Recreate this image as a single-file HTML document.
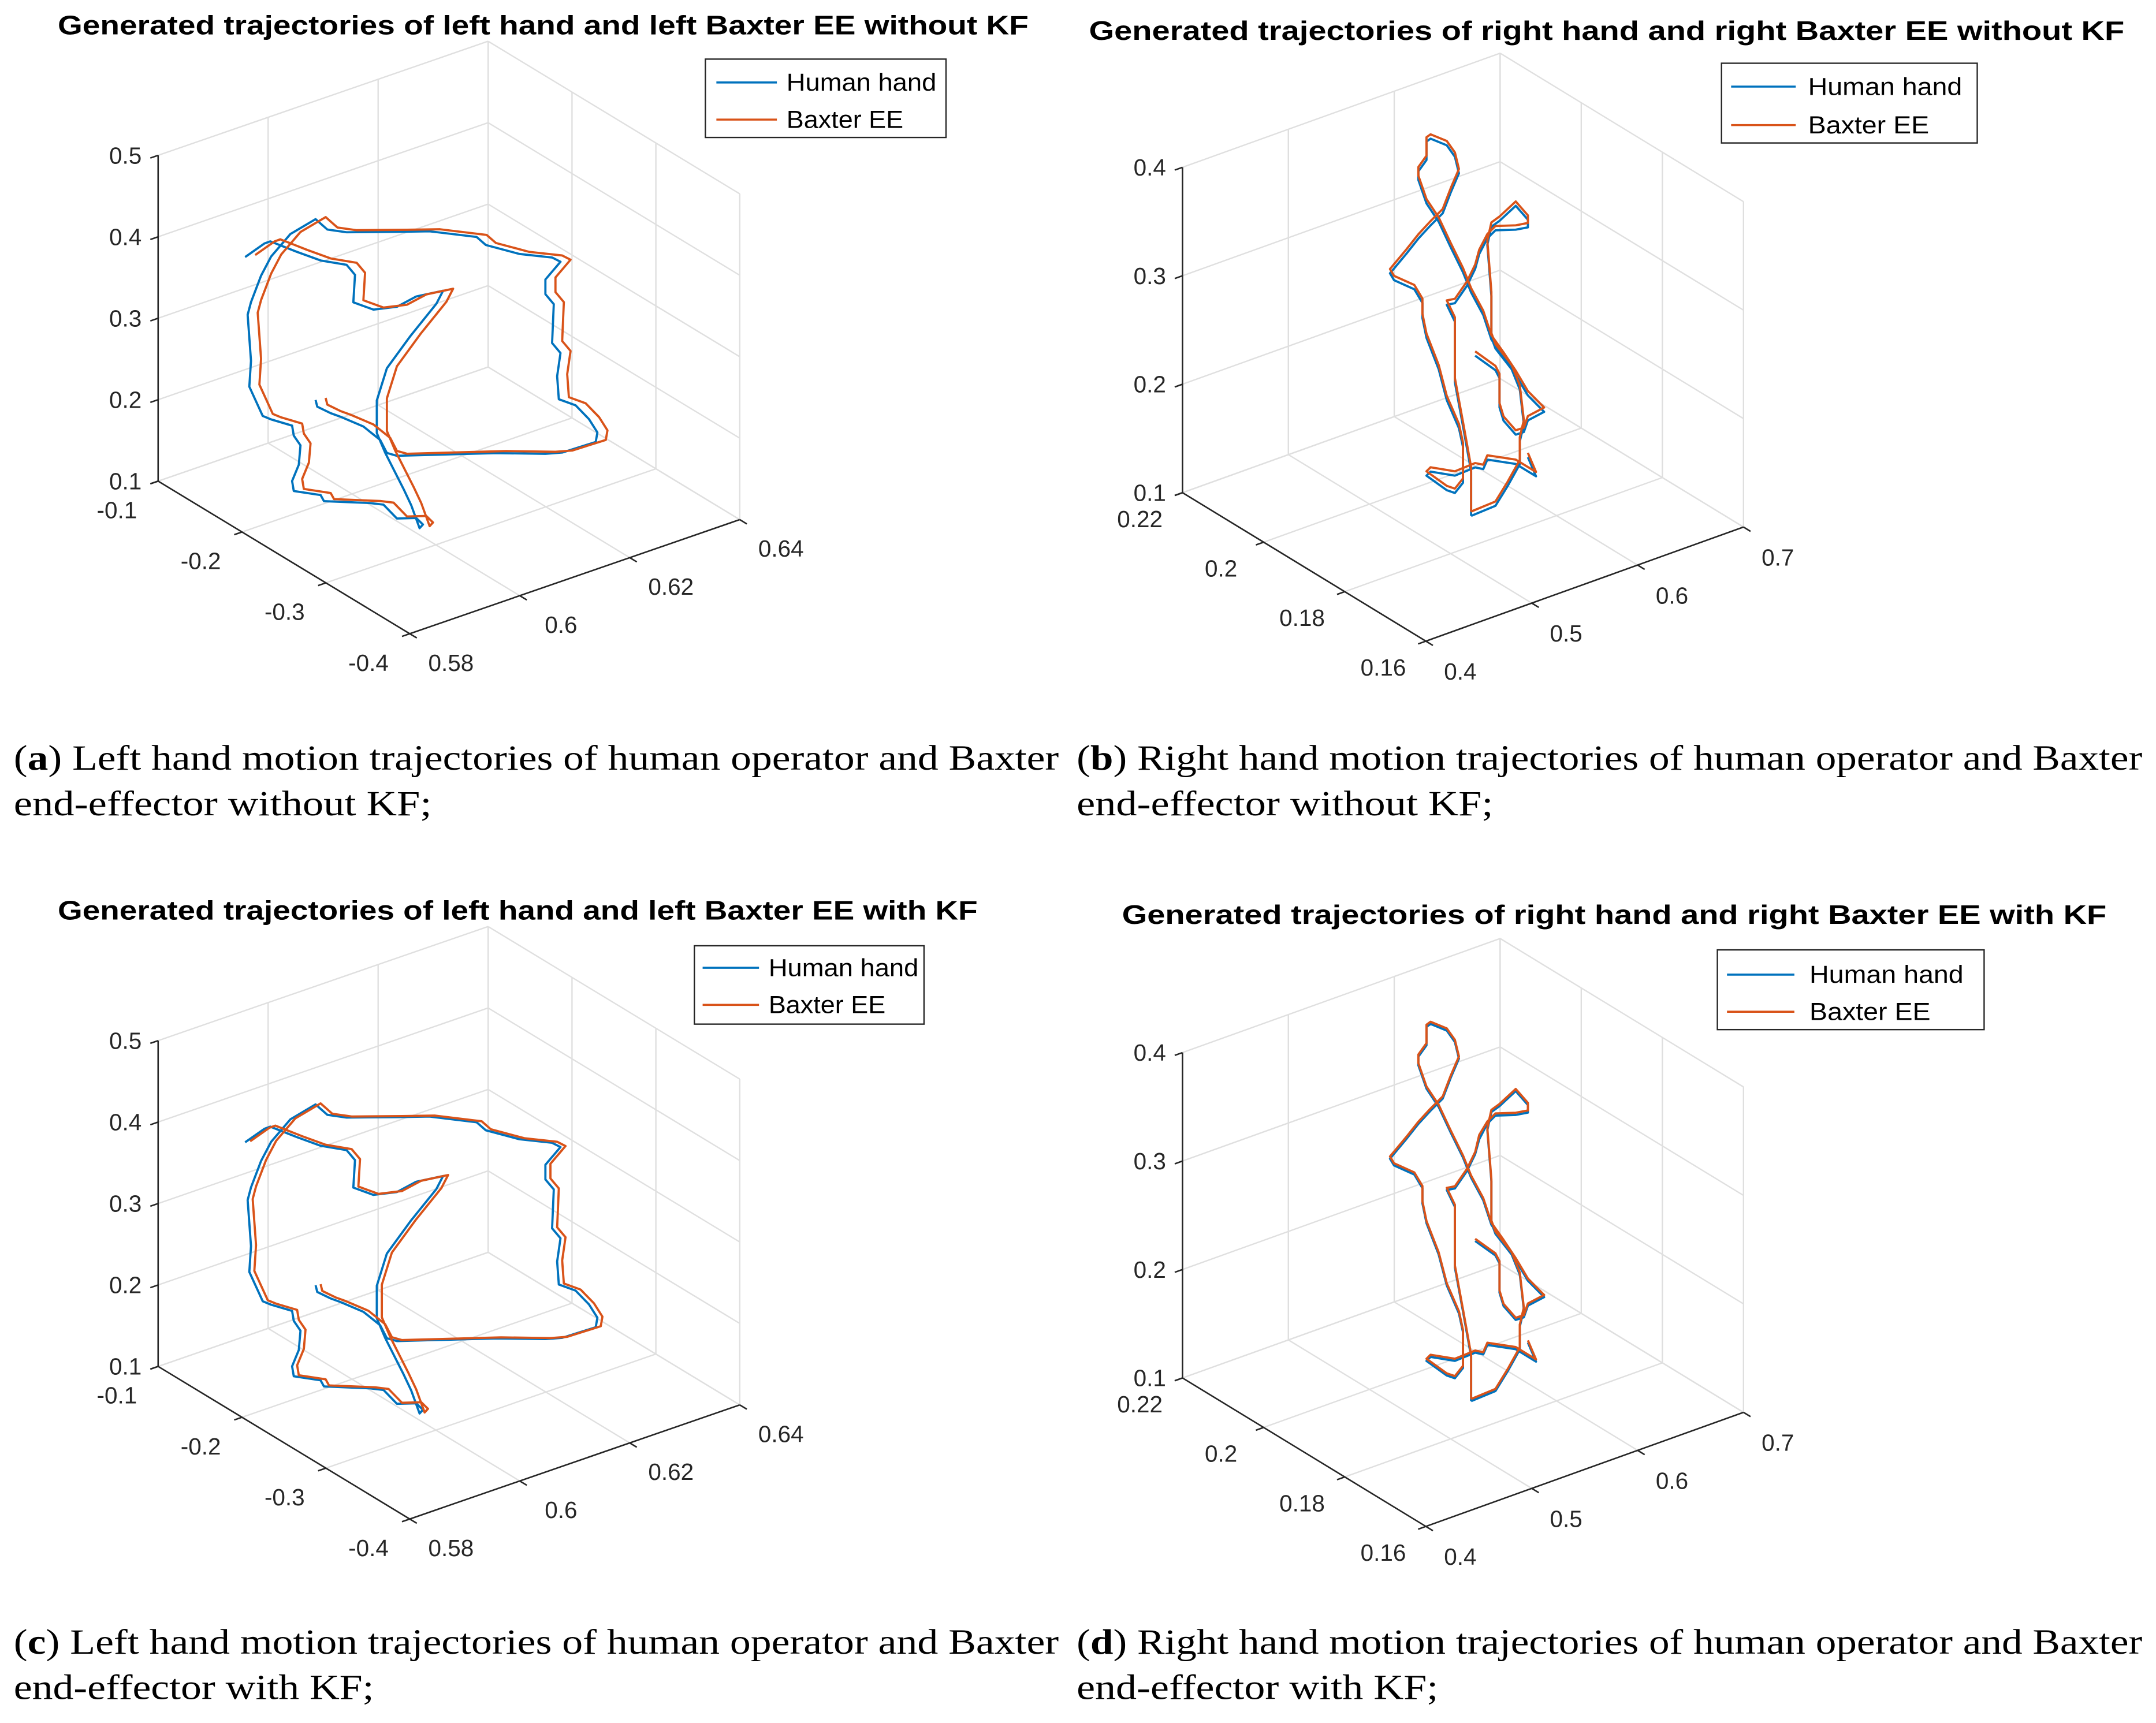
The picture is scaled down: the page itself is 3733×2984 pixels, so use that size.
<!DOCTYPE html>
<html><head><meta charset="utf-8"><style>
html,body{margin:0;padding:0;background:#fff;}
svg{display:block;}
.tk{font-family:"Liberation Sans",sans-serif;font-size:17px;fill:#262626;}
.ttl{font-family:"Liberation Sans",sans-serif;font-size:19.5px;font-weight:bold;fill:#000;}
.lg{font-family:"Liberation Sans",sans-serif;font-size:18px;fill:#000;}
.cap{font-family:"Liberation Serif",serif;font-size:26px;fill:#000;}
</style></head><body>
<svg id="fig" xmlns="http://www.w3.org/2000/svg" width="3733" height="2984" viewBox="0 0 1568 1253.4">
<rect x="0" y="0" width="1568" height="1253.4" fill="#fff"/>
<g id="pa"></g>
<g id="pb"></g>
<g id="pc"></g>
<g id="pd"></g>

<text class="ttl" x="42" y="25" textLength="706" lengthAdjust="spacingAndGlyphs">Generated trajectories of left hand and left Baxter EE without KF</text>
<text class="ttl" x="792" y="29" textLength="753" lengthAdjust="spacingAndGlyphs">Generated trajectories of right hand and right Baxter EE without KF</text>
<text class="ttl" x="42" y="669" textLength="669" lengthAdjust="spacingAndGlyphs">Generated trajectories of left hand and left Baxter EE with KF</text>
<text class="ttl" x="816" y="672" textLength="716" lengthAdjust="spacingAndGlyphs">Generated trajectories of right hand and right Baxter EE with KF</text>

<g>
<rect x="513" y="43" width="175" height="57" fill="#fff" stroke="#262626" stroke-width="1"/>
<line x1="521" y1="60" x2="565" y2="60" stroke="#0072BD" stroke-width="1.5"/>
<text class="lg" x="572" y="66" textLength="109" lengthAdjust="spacingAndGlyphs">Human hand</text>
<line x1="521" y1="87" x2="565" y2="87" stroke="#D95319" stroke-width="1.5"/>
<text class="lg" x="572" y="93" textLength="85" lengthAdjust="spacingAndGlyphs">Baxter EE</text>
</g>
<g>
<rect x="1252" y="46" width="186" height="58" fill="#fff" stroke="#262626" stroke-width="1"/>
<line x1="1259" y1="63" x2="1306" y2="63" stroke="#0072BD" stroke-width="1.5"/>
<text class="lg" x="1315" y="69" textLength="112" lengthAdjust="spacingAndGlyphs">Human hand</text>
<line x1="1259" y1="91" x2="1306" y2="91" stroke="#D95319" stroke-width="1.5"/>
<text class="lg" x="1315" y="97" textLength="88" lengthAdjust="spacingAndGlyphs">Baxter EE</text>
</g>
<g>
<rect x="505" y="688" width="167" height="57" fill="#fff" stroke="#262626" stroke-width="1"/>
<line x1="511" y1="704" x2="552" y2="704" stroke="#0072BD" stroke-width="1.5"/>
<text class="lg" x="559" y="710" textLength="109" lengthAdjust="spacingAndGlyphs">Human hand</text>
<line x1="511" y1="731" x2="552" y2="731" stroke="#D95319" stroke-width="1.5"/>
<text class="lg" x="559" y="737" textLength="85" lengthAdjust="spacingAndGlyphs">Baxter EE</text>
</g>
<g>
<rect x="1249" y="691" width="194" height="58" fill="#fff" stroke="#262626" stroke-width="1"/>
<line x1="1256" y1="709" x2="1305" y2="709" stroke="#0072BD" stroke-width="1.5"/>
<text class="lg" x="1316" y="715" textLength="112" lengthAdjust="spacingAndGlyphs">Human hand</text>
<line x1="1256" y1="736" x2="1305" y2="736" stroke="#D95319" stroke-width="1.5"/>
<text class="lg" x="1316" y="742" textLength="88" lengthAdjust="spacingAndGlyphs">Baxter EE</text>
</g>

<g>
<text class="cap" x="10" y="560" textLength="760" lengthAdjust="spacingAndGlyphs">(<tspan font-weight="bold">a</tspan>) Left hand motion trajectories of human operator and Baxter</text>
<text class="cap" x="10" y="593" textLength="304" lengthAdjust="spacingAndGlyphs">end-effector without KF;</text>
</g>
<g>
<text class="cap" x="783" y="560" textLength="775" lengthAdjust="spacingAndGlyphs">(<tspan font-weight="bold">b</tspan>) Right hand motion trajectories of human operator and Baxter</text>
<text class="cap" x="783" y="593" textLength="303" lengthAdjust="spacingAndGlyphs">end-effector without KF;</text>
</g>
<g>
<text class="cap" x="10" y="1203" textLength="760" lengthAdjust="spacingAndGlyphs">(<tspan font-weight="bold">c</tspan>) Left hand motion trajectories of human operator and Baxter</text>
<text class="cap" x="10" y="1236" textLength="262" lengthAdjust="spacingAndGlyphs">end-effector with KF;</text>
</g>
<g>
<text class="cap" x="783" y="1203" textLength="775" lengthAdjust="spacingAndGlyphs">(<tspan font-weight="bold">d</tspan>) Right hand motion trajectories of human operator and Baxter</text>
<text class="cap" x="783" y="1236" textLength="263" lengthAdjust="spacingAndGlyphs">end-effector with KF;</text>
</g>
</svg>
<script>
// ---------- data: left-hand panels (a, c) ----------
const leftXTicks = [-0.1, -0.2, -0.3, -0.4];
const leftYTicks = [0.58, 0.6, 0.62, 0.64];
const leftZTicks = [0.1, 0.2, 0.3, 0.4, 0.5];
const leftXLabels = ["-0.1", "-0.2", "-0.3", "-0.4"];
const leftYLabels = ["0.58", "0.6", "0.62", "0.64"];
const leftZLabels = ["0.1", "0.2", "0.3", "0.4", "0.5"];
const leftDepth = 0.61;
const humanLeftX = [-0.007,-0.030,-0.037,-0.069,-0.097,-0.128,-0.138,-0.136,-0.160,-0.188,-0.211,-0.243,-0.235,-0.204,-0.176,-0.164,-0.164,-0.174,-0.196,-0.205,-0.215,-0.219,-0.211,-0.188,-0.172,-0.156,-0.101,-0.097,-0.065,-0.063,-0.071,-0.073,-0.065,-0.063,-0.038,-0.028,-0.012,-0.014,-0.010,-0.014,-0.026,-0.038,-0.061,-0.091,-0.105,-0.128,-0.188,-0.227,-0.283,-0.294,-0.334,-0.373,-0.383,-0.365,-0.365,-0.375,-0.373,-0.383,-0.379,-0.381,-0.401,-0.417,-0.427,-0.425,-0.385,-0.365,-0.306,-0.188,-0.176,-0.168,-0.148,-0.121,-0.109,-0.093,-0.091];
const humanLeftZ = [0.247,0.278,0.285,0.292,0.299,0.313,0.307,0.272,0.278,0.299,0.326,0.353,0.332,0.273,0.216,0.169,0.129,0.111,0.080,0.066,0.044,0.051,0.054,0.039,0.046,0.038,0.006,0.011,-0.004,0.007,0.032,0.057,0.064,0.075,0.067,0.065,0.091,0.124,0.178,0.196,0.236,0.267,0.309,0.346,0.342,0.353,0.391,0.416,0.444,0.441,0.455,0.475,0.476,0.443,0.425,0.419,0.370,0.364,0.333,0.306,0.311,0.304,0.294,0.281,0.243,0.229,0.193,0.116,0.112,0.123,0.127,0.122,0.119,0.117,0.124];
const baxterLeftX = [-0.019,-0.042,-0.049,-0.081,-0.109,-0.140,-0.150,-0.148,-0.172,-0.200,-0.223,-0.255,-0.247,-0.216,-0.188,-0.176,-0.176,-0.186,-0.208,-0.217,-0.227,-0.231,-0.223,-0.200,-0.184,-0.168,-0.113,-0.109,-0.077,-0.075,-0.083,-0.085,-0.077,-0.075,-0.050,-0.040,-0.024,-0.026,-0.022,-0.026,-0.038,-0.050,-0.073,-0.103,-0.117,-0.140,-0.200,-0.239,-0.295,-0.306,-0.346,-0.385,-0.395,-0.377,-0.377,-0.387,-0.385,-0.395,-0.391,-0.393,-0.413,-0.429,-0.439,-0.437,-0.397,-0.377,-0.318,-0.200,-0.188,-0.180,-0.160,-0.133,-0.121,-0.105,-0.103];
const baxterLeftZ = [0.257,0.288,0.295,0.302,0.309,0.323,0.317,0.282,0.288,0.309,0.336,0.363,0.342,0.283,0.226,0.179,0.139,0.121,0.090,0.076,0.054,0.061,0.064,0.049,0.056,0.048,0.016,0.021,0.006,0.017,0.042,0.067,0.074,0.085,0.077,0.075,0.101,0.134,0.188,0.206,0.246,0.277,0.319,0.356,0.352,0.363,0.401,0.426,0.454,0.451,0.465,0.485,0.486,0.453,0.435,0.429,0.380,0.374,0.343,0.316,0.321,0.314,0.304,0.291,0.253,0.239,0.203,0.126,0.122,0.133,0.137,0.132,0.129,0.127,0.134];
const baxterLeftKfX = [-0.013,-0.036,-0.043,-0.075,-0.103,-0.134,-0.144,-0.142,-0.166,-0.194,-0.217,-0.249,-0.241,-0.210,-0.182,-0.170,-0.170,-0.180,-0.202,-0.211,-0.221,-0.225,-0.217,-0.194,-0.178,-0.162,-0.107,-0.103,-0.071,-0.069,-0.077,-0.079,-0.071,-0.069,-0.044,-0.034,-0.018,-0.020,-0.016,-0.020,-0.032,-0.044,-0.067,-0.097,-0.111,-0.134,-0.194,-0.233,-0.289,-0.300,-0.340,-0.379,-0.389,-0.371,-0.371,-0.381,-0.379,-0.389,-0.385,-0.387,-0.407,-0.423,-0.433,-0.431,-0.391,-0.371,-0.312,-0.194,-0.182,-0.174,-0.154,-0.127,-0.115,-0.099,-0.097];
const baxterLeftKfZ = [0.252,0.283,0.290,0.297,0.304,0.318,0.312,0.277,0.283,0.304,0.331,0.358,0.337,0.278,0.221,0.174,0.134,0.116,0.085,0.071,0.049,0.056,0.059,0.044,0.051,0.043,0.011,0.016,0.001,0.012,0.037,0.062,0.069,0.080,0.072,0.070,0.096,0.129,0.183,0.201,0.241,0.272,0.314,0.351,0.347,0.358,0.396,0.421,0.449,0.446,0.460,0.480,0.481,0.448,0.430,0.424,0.375,0.369,0.338,0.311,0.316,0.309,0.299,0.286,0.248,0.234,0.198,0.121,0.117,0.128,0.132,0.127,0.124,0.122,0.129];

// ---------- data: right-hand panels (b, d) ----------
const rightXTicks = [0.22, 0.2, 0.18, 0.16];
const rightYTicks = [0.4, 0.5, 0.6, 0.7];
const rightZTicks = [0.1, 0.2, 0.3, 0.4];
const rightXLabels = ["0.22", "0.2", "0.18", "0.16"];
const rightYLabels = ["0.4", "0.5", "0.6", "0.7"];
const rightZLabels = ["0.1", "0.2", "0.3", "0.4"];
const rightDepth = 0.55;
const humanRightX = [0.187,0.182,0.181,0.181,0.180,0.177,0.175,0.174,0.170,0.174,0.177,0.180,0.183,0.185,0.188,0.190,0.193,0.196,0.199,0.201,0.201,0.199,0.199,0.198,0.194,0.192,0.191,0.193,0.195,0.198,0.201,0.204,0.208,0.207,0.202,0.200,0.200,0.199,0.196,0.194,0.191,0.190,0.190,0.192,0.194,0.199,0.198,0.192,0.187,0.185,0.184,0.177,0.172,0.174,null,0.188,0.182,0.179,0.176,0.176,0.175,0.176,0.178,0.182,0.183,0.183,0.184,0.183,0.181,0.177,0.174,0.174,0.177,0.182,0.184,0.186,0.187,0.189,0.192,0.194,0.192,0.192,0.192,0.190,0.188,0.188,0.188];
const humanRightZ = [0.249,0.247,0.242,0.215,0.205,0.199,0.206,0.219,0.236,0.242,0.254,0.264,0.273,0.291,0.305,0.319,0.335,0.352,0.362,0.379,0.387,0.402,0.419,0.424,0.427,0.421,0.408,0.386,0.362,0.344,0.325,0.304,0.277,0.273,0.276,0.268,0.254,0.238,0.216,0.192,0.173,0.158,0.125,0.111,0.109,0.111,0.117,0.127,0.146,0.149,0.160,0.172,0.172,0.185,null,0.099,0.122,0.147,0.174,0.195,0.213,0.243,0.257,0.267,0.275,0.313,0.358,0.377,0.387,0.410,0.404,0.397,0.388,0.376,0.364,0.345,0.329,0.309,0.286,0.280,0.269,0.247,0.213,0.177,0.140,0.119,0.099];
const baxterRightX = [0.187,0.182,0.181,0.181,0.180,0.177,0.175,0.174,0.170,0.174,0.177,0.180,0.183,0.185,0.188,0.190,0.193,0.196,0.199,0.201,0.201,0.199,0.199,0.198,0.194,0.192,0.191,0.193,0.195,0.198,0.201,0.204,0.208,0.207,0.202,0.200,0.200,0.199,0.196,0.194,0.191,0.190,0.190,0.192,0.194,0.199,0.198,0.192,0.187,0.185,0.184,0.177,0.172,0.174,null,0.188,0.182,0.179,0.176,0.176,0.175,0.176,0.178,0.182,0.183,0.183,0.184,0.183,0.181,0.177,0.174,0.174,0.177,0.182,0.184,0.186,0.187,0.189,0.192,0.194,0.192,0.192,0.192,0.190,0.188,0.188,0.188];
const baxterRightZ = [0.253,0.251,0.246,0.219,0.209,0.203,0.210,0.223,0.240,0.246,0.258,0.268,0.277,0.295,0.309,0.323,0.339,0.356,0.366,0.383,0.391,0.406,0.423,0.428,0.431,0.425,0.412,0.390,0.366,0.348,0.329,0.308,0.281,0.277,0.280,0.272,0.258,0.242,0.220,0.196,0.177,0.162,0.129,0.115,0.113,0.115,0.121,0.131,0.150,0.153,0.164,0.176,0.176,0.189,null,0.103,0.126,0.151,0.178,0.199,0.217,0.247,0.261,0.271,0.279,0.317,0.362,0.381,0.391,0.414,0.408,0.401,0.392,0.380,0.368,0.349,0.333,0.313,0.290,0.284,0.273,0.251,0.217,0.181,0.144,0.123,0.103];
const baxterRightKfZ = [0.251,0.249,0.244,0.217,0.207,0.201,0.208,0.221,0.238,0.244,0.256,0.266,0.275,0.293,0.307,0.321,0.337,0.354,0.364,0.381,0.389,0.404,0.421,0.426,0.429,0.423,0.410,0.388,0.364,0.346,0.327,0.306,0.279,0.275,0.278,0.270,0.256,0.240,0.218,0.194,0.175,0.160,0.127,0.113,0.111,0.113,0.119,0.129,0.148,0.151,0.162,0.174,0.174,0.187,null,0.101,0.124,0.149,0.176,0.197,0.215,0.245,0.259,0.269,0.277,0.315,0.360,0.379,0.389,0.412,0.406,0.399,0.390,0.378,0.366,0.349,0.331,0.311,0.288,0.282,0.271,0.249,0.215,0.179,0.142,0.121,0.101];

const NS = "http://www.w3.org/2000/svg";
function mk(parent, tag, attrs) {
  const e = document.createElementNS(NS, tag);
  for (const k in attrs) e.setAttribute(k, attrs[k]);
  parent.appendChild(e);
  return e;
}
function makeAxes(cfg) {
  const xr = cfg.xd, yr = cfg.yd, zr = cfg.zd;
  return function(x, y, z) {
    const u = (x - xr[0]) / (xr[1] - xr[0]);
    const v = (y - yr[0]) / (yr[1] - yr[0]);
    const w = (z - zr[0]) / (zr[1] - zr[0]);
    return [cfg.L[0] + u * cfg.FL[0] + v * cfg.RF[0],
            cfg.L[1] + cfg.dy + u * cfg.FL[1] + v * cfg.RF[1] - w * cfg.H];
  };
}
function drawPanel(g, cfg, xt, yt, zt, xl, yl, zl, series) {
  const P = makeAxes(cfg);
  const x0 = cfg.xd[0], x1 = cfg.xd[1], y0 = cfg.yd[0], y1 = cfg.yd[1], z0 = cfg.zd[0], z1 = cfg.zd[1];
  const grid = {stroke: "#dfdfdf", "stroke-width": 1, fill: "none"};
  function seg(a, b, st, name) {
    const l = mk(g, "line", Object.assign({x1: a[0], y1: a[1], x2: b[0], y2: b[1]}, st));
    
    
    return l;
  }
  zt.forEach(z => {
    seg(P(x0, y0, z), P(x0, y1, z), grid, 'grid-z-left-wall');
    seg(P(x0, y1, z), P(x1, y1, z), grid, 'grid-z-right-wall');
  });
  yt.forEach(y => {
    seg(P(x0, y, z0), P(x1, y, z0), grid, 'grid-y-floor');
    seg(P(x0, y, z0), P(x0, y, z1), grid, 'grid-y-wall');
  });
  xt.forEach(x => {
    seg(P(x, y0, z0), P(x, y1, z0), grid, 'grid-x-floor');
    seg(P(x, y1, z0), P(x, y1, z1), grid, 'grid-x-wall');
  });
  const ax = {stroke: "#262626", "stroke-width": 1.1, fill: "none"};
  seg(P(x0, y0, z0), P(x0, y0, z1), ax, 'z-axis-line');
  seg(P(x0, y0, z0), P(x1, y0, z0), ax, 'x-axis-line');
  seg(P(x1, y0, z0), P(x1, y1, z0), ax, 'y-axis-line');
  const rl = Math.hypot(cfg.RF[0], cfg.RF[1]), fl = Math.hypot(cfg.FL[0], cfg.FL[1]);
  const tv = [-cfg.RF[0] / rl * 6, -cfg.RF[1] / rl * 6];
  const tf = [cfg.FL[0] / fl * 6, cfg.FL[1] / fl * 6];
  zt.forEach((z, i) => {
    const p = P(x0, y0, z);
    seg(p, [p[0] + tv[0], p[1] + tv[1]], ax, 'z-tick');
    const t = mk(g, "text", {x: p[0] - 12, y: p[1] + 6, "text-anchor": "end", class: "tk"});
    t.textContent = zl[i];
    
    
  });
  xt.forEach((x, i) => {
    const p = P(x, y0, z0);
    seg(p, [p[0] + tv[0], p[1] + tv[1]], ax, 'x-tick');
    const t = mk(g, "text", {x: p[0] + cfg.xo[0], y: p[1] + cfg.xo[1] + 6, "text-anchor": "middle", class: "tk"});
    t.textContent = xl[i];
    
    
  });
  yt.forEach((y, i) => {
    const p = P(x1, y, z0);
    seg(p, [p[0] + tf[0], p[1] + tf[1]], ax, 'y-tick');
    const t = mk(g, "text", {x: p[0] + cfg.yo[0], y: p[1] + cfg.yo[1] + 6, "text-anchor": "middle", class: "tk"});
    t.textContent = yl[i];
    
    
  });
  series.forEach(s => {
    let d = "", pen = false;
    for (let i = 0; i < Math.min(s.x.length, s.z.length); i++) {
      if (s.x[i] === null || s.z[i] === null) { pen = false; continue; }
      const p = P(s.x[i], s.y, s.z[i]);
      d += (pen ? "L" : "M") + p[0].toFixed(2) + " " + p[1].toFixed(2);
      pen = true;
    }
    const path = mk(g, "path", {d: d, fill: "none", stroke: s.color, "stroke-width": 1.6, "stroke-linejoin": "round"});
    
    
  });
}
const cfgA = {L: [115, 350], FL: [183, 111], RF: [240, -83], H: 237, dy: 0, xd: [-0.1, -0.4], yd: [0.58, 0.64], zd: [0.1, 0.5], xo: [-30, 21], yo: [30, 21]};
const cfgC = Object.assign({}, cfgA, {dy: 644});
const cfgB = {L: [860, 358.4], FL: [177, 108], RF: [231, -83], H: 236.7, dy: 0, xd: [0.22, 0.16], yd: [0.4, 0.7], zd: [0.1, 0.4], xo: [-31, 19], yo: [25, 22]};
const cfgD = Object.assign({}, cfgB, {dy: 644});
const BLUE = "#0072BD", ORANGE = "#D95319";
drawPanel(document.getElementById('pa'), cfgA, leftXTicks, leftYTicks, leftZTicks, leftXLabels, leftYLabels, leftZLabels,
  [{x: humanLeftX, z: humanLeftZ, y: leftDepth, color: BLUE, name: 'human-hand-line-a'},
   {x: baxterLeftX, z: baxterLeftZ, y: leftDepth, color: ORANGE, name: 'baxter-ee-line-a'}]);
drawPanel(document.getElementById('pc'), cfgC, leftXTicks, leftYTicks, leftZTicks, leftXLabels, leftYLabels, leftZLabels,
  [{x: humanLeftX, z: humanLeftZ, y: leftDepth, color: BLUE, name: 'human-hand-line-c'},
   {x: baxterLeftKfX, z: baxterLeftKfZ, y: leftDepth, color: ORANGE, name: 'baxter-ee-line-c'}]);
drawPanel(document.getElementById('pb'), cfgB, rightXTicks, rightYTicks, rightZTicks, rightXLabels, rightYLabels, rightZLabels,
  [{x: humanRightX, z: humanRightZ, y: rightDepth, color: BLUE, name: 'human-hand-line-b'},
   {x: baxterRightX, z: baxterRightZ, y: rightDepth, color: ORANGE, name: 'baxter-ee-line-b'}]);
drawPanel(document.getElementById('pd'), cfgD, rightXTicks, rightYTicks, rightZTicks, rightXLabels, rightYLabels, rightZLabels,
  [{x: humanRightX, z: humanRightZ, y: rightDepth, color: BLUE, name: 'human-hand-line-d'},
   {x: baxterRightX, z: baxterRightKfZ, y: rightDepth, color: ORANGE, name: 'baxter-ee-line-d'}]);
</script>
</body></html>
